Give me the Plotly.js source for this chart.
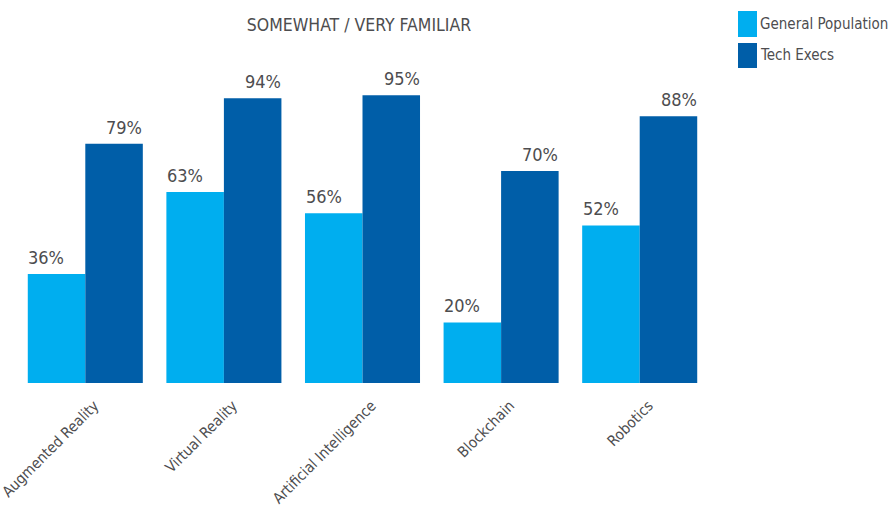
<!DOCTYPE html>
<html>
<head>
<meta charset="utf-8">
<script src="https://cdn.plot.ly/plotly-3.0.1.min.js"></script>
<style>
html,body{margin:0;padding:0;background:#fff;}
#chart{width:888px;height:506px;}
#chart text{font-stretch:condensed;}
</style>
</head>
<body>
<div id="chart"></div>
<script>
const categories = ["Augmented Reality", "Virtual Reality", "Artificial Intelligence", "Blockchain", "Robotics"];
const generalPopulation = [36, 63, 56, 20, 52];
const techExecs = [79, 94, 95, 70, 88];
const seriesNames = ["General Population", "Tech Execs"];
const chartTitle = "SOMEWHAT / VERY FAMILIAR";

const FONT = "'DejaVu Sans Condensed', 'Liberation Sans Narrow', 'Roboto Condensed', sans-serif";
const TXT = "#4d4d4f";
const C1 = "#00aeef";
const C2 = "#005ea8";

const traces = [
  {type: "bar", name: seriesNames[0], x: categories, y: generalPopulation, marker: {color: C1}, hoverinfo: "none"},
  {type: "bar", name: seriesNames[1], x: categories, y: techExecs, marker: {color: C2}, hoverinfo: "none"}
];

const L = 16, R = 179, T = 80, B = 123, W = 888, H = 506;
const pw = W - L - R, ph = H - T - B;
const px = v => (v - L) / pw;
const py = v => (H - B - v) / ph;

const annotations = [];
categories.forEach((c, i) => {
  annotations.push({x: c, y: generalPopulation[i], xref: "x", yref: "y", text: generalPopulation[i] + "%",
    showarrow: false, xanchor: "left", yanchor: "bottom", xshift: -59, yshift: 4,
    font: {family: FONT, size: 18, color: TXT}});
  annotations.push({x: c, y: techExecs[i], xref: "x", yref: "y", text: techExecs[i] + "%",
    showarrow: false, xanchor: "right", yanchor: "bottom", xshift: 59, yshift: 4,
    font: {family: FONT, size: 18, color: TXT}});
});
annotations.push({x: px(758), y: py(24), xref: "paper", yref: "paper", text: seriesNames[0], showarrow: false,
  xanchor: "left", yanchor: "middle", font: {family: FONT, size: 15, color: TXT}});
annotations.push({x: px(758), y: py(55), xref: "paper", yref: "paper", text: seriesNames[1], showarrow: false,
  xanchor: "left", yanchor: "middle", font: {family: FONT, size: 15, color: TXT}});

const shapes = [
  {type: "rect", xref: "paper", yref: "paper", x0: px(738), x1: px(757), y0: py(37), y1: py(11), fillcolor: C1, line: {width: 0}},
  {type: "rect", xref: "paper", yref: "paper", x0: px(738), x1: px(757), y0: py(68), y1: py(43), fillcolor: C2, line: {width: 0}}
];

const layout = {
  width: W, height: H,
  margin: {l: L, r: R, t: T, b: B},
  paper_bgcolor: "#fff", plot_bgcolor: "#fff",
  showlegend: false,
  barmode: "group",
  bargap: 0.17,
  bargroupgap: 0,
  title: {text: chartTitle, x: 359 / W, xref: "container", xanchor: "center", y: 1 - 25 / H, yref: "container", yanchor: "middle",
    font: {family: FONT, size: 17.5, color: TXT}},
  xaxis: {type: "category", showgrid: false, zeroline: false, showline: false, ticks: "",
    tickangle: -45, ticklabelshift: 9, ticklabelstandoff: 10,
    tickfont: {family: FONT, size: 15, color: TXT}},
  yaxis: {range: [0, 100], showgrid: false, zeroline: false, showline: false, showticklabels: false, ticks: ""},
  annotations: annotations,
  shapes: shapes
};

Plotly.newPlot("chart", traces, layout, {displayModeBar: false, staticPlot: true});
</script>
</body>
</html>
